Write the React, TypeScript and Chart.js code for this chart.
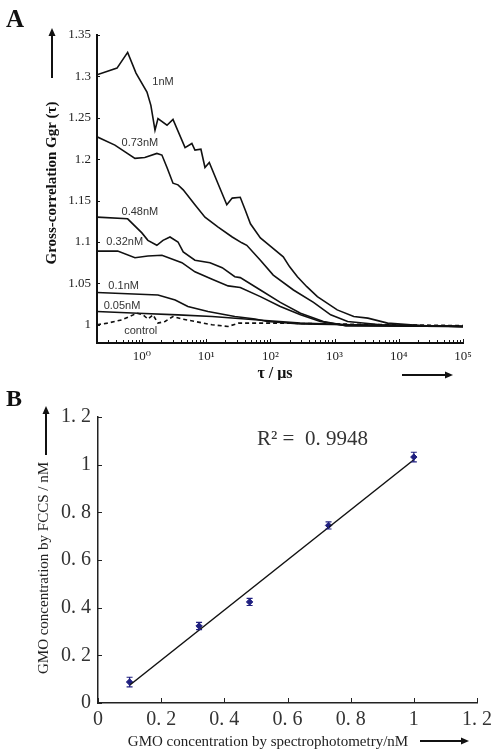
import React, { useEffect, useRef } from 'react';
import { Chart, registerables } from 'chart.js';
Chart.register(...registerables);

// ---------- Panel A data ----------
const seriesNames = ['1nM', '0.73nM', '0.48nM', '0.32nM', '0.1nM', '0.05nM', 'control'];

const tau1nM = [0.2, 0.41, 0.6, 0.81, 1.2, 1.38, 1.6, 1.78, 2.46, 3.05, 4.7, 6.0, 6.7, 8.3, 9.6, 11.2, 15.4, 21, 25.5, 34, 40.5, 49, 70, 100, 159, 200, 264, 370, 540, 1100, 1990, 3300, 6700, 22000, 100000];
const g1nM = [1.302, 1.31, 1.329, 1.304, 1.281, 1.265, 1.235, 1.249, 1.241, 1.248, 1.214, 1.219, 1.211, 1.212, 1.19, 1.196, 1.17, 1.145, 1.153, 1.154, 1.139, 1.122, 1.105, 1.095, 1.082, 1.07, 1.058, 1.046, 1.034, 1.018, 1.01, 1.008, 1.002, 0.999, 0.998];

const tau073 = [0.2, 0.38, 0.78, 1.11, 1.71, 2.05, 2.46, 3.05, 3.65, 4.4, 6.7, 9.6, 15.4, 25.5, 36, 43, 70, 111, 229, 470, 870, 1600, 5200, 100000];
const g073 = [1.227, 1.217, 1.201, 1.202, 1.207, 1.205, 1.19, 1.171, 1.169, 1.163, 1.145, 1.13, 1.118, 1.106, 1.099, 1.096, 1.078, 1.06, 1.042, 1.027, 1.012, 1.004, 1.0, 0.998];

const tau048 = [0.2, 0.6, 1.0, 1.24, 1.71, 2.13, 2.74, 3.65, 4.4, 6.7, 11.5, 17.8, 28, 34, 70, 143, 295, 670, 1500, 100000];
const g048 = [1.13, 1.128, 1.111, 1.102, 1.096, 1.102, 1.106, 1.1, 1.088, 1.078, 1.075, 1.069, 1.058, 1.057, 1.042, 1.027, 1.014, 1.004, 0.999, 0.998];

const tau032 = [0.2, 0.42, 0.78, 1.24, 2.05, 4.2, 6.7, 12.4, 22, 34, 70, 143, 295, 600, 1500, 100000];
const g032 = [1.089, 1.089, 1.081, 1.083, 1.084, 1.075, 1.064, 1.055, 1.047, 1.045, 1.034, 1.022, 1.012, 1.004, 0.999, 0.998];

const tau01 = [0.2, 1.78, 3.3, 5.2, 10.7, 28, 58, 90, 295, 100000];
const g01 = [1.039, 1.036, 1.03, 1.022, 1.016, 1.01, 1.007, 1.004, 1.001, 0.998];

const tau005 = [0.2, 0.87, 3.65, 12.4, 58, 295, 1800, 100000];
const g005 = [1.016, 1.014, 1.012, 1.01, 1.006, 1.002, 1.0, 0.998];

const tauCtrl = [0.2, 0.29, 0.49, 0.84, 1.04, 1.24, 1.49, 1.78, 2.29, 3.05, 4.2, 6.7, 12.4, 22, 32, 52, 160, 870, 100000];
const gCtrl = [1.0, 1.002, 1.006, 1.014, 1.012, 1.007, 1.012, 1.002, 1.004, 1.01, 1.007, 1.004, 1.0, 0.998, 1.002, 1.002, 1.002, 1.001, 0.999];

const labelTau = [2.13, 0.93, 0.93, 0.54, 0.52, 0.49, 0.96];
const labelG = [1.293, 1.219, 1.136, 1.1, 1.047, 1.023, 0.993];

const xTickValuesA = [1, 10, 100, 1000, 10000, 100000];
const xTickLabelsA = ['10⁰', '10¹', '10²', '10³', '10⁴', '10⁵'];
const yTicksA = [1, 1.05, 1.1, 1.15, 1.2, 1.25, 1.3, 1.35];
const yTickLabelsA = ['1', '1.05', '1.1', '1.15', '1.2', '1.25', '1.3', '1.35'];

// ---------- Panel B data ----------
const spectroConc = [0.1, 0.32, 0.48, 0.73, 1.0];
const fccsConc = [0.088, 0.323, 0.424, 0.745, 1.032];
const fccsErr = [0.02, 0.015, 0.015, 0.015, 0.02];
const r2Text = 'R² =  0. 9948';

const ticksB = [0, 0.2, 0.4, 0.6, 0.8, 1, 1.2];
const tickLabelsB = ['0', '0. 2', '0. 4', '0. 6', '0. 8', '1', '1. 2'];

const SERIF = '"Liberation Serif", "DejaVu Serif", serif';
const SANS = '"Liberation Sans", Arial, sans-serif';

function arrow(ctx: CanvasRenderingContext2D, x1: number, y1: number, x2: number, y2: number) {
  ctx.save();
  ctx.strokeStyle = '#111';
  ctx.fillStyle = '#111';
  ctx.lineWidth = 2;
  const ang = Math.atan2(y2 - y1, x2 - x1);
  const hl = 8;
  ctx.beginPath();
  ctx.moveTo(x1, y1);
  ctx.lineTo(x2 - Math.cos(ang) * hl * 0.8, y2 - Math.sin(ang) * hl * 0.8);
  ctx.stroke();
  ctx.beginPath();
  ctx.moveTo(x2, y2);
  ctx.lineTo(x2 - hl * Math.cos(ang) + 3.5 * Math.sin(ang), y2 - hl * Math.sin(ang) - 3.5 * Math.cos(ang));
  ctx.lineTo(x2 - hl * Math.cos(ang) - 3.5 * Math.sin(ang), y2 - hl * Math.sin(ang) + 3.5 * Math.cos(ang));
  ctx.closePath();
  ctx.fill();
  ctx.restore();
}

function findLabel(values: number[], labels: string[], v: number) {
  const i = values.findIndex((t) => Math.abs(t - v) < 1e-6 * Math.max(1, Math.abs(t)));
  return i >= 0 ? labels[i] : '';
}

const panelAPlugin = {
  id: 'panelA',
  afterDraw(chart: any) {
    const { ctx, chartArea, scales } = chart;
    const x = scales.x;
    const y = scales.y;
    ctx.save();
    ctx.strokeStyle = '#111';
    ctx.lineWidth = 1;
    x.ticks.forEach((t: any) => {
      const px = Math.round(x.getPixelForValue(t.value)) + 0.5;
      const len = xTickValuesA.some((v) => Math.abs(v - t.value) < 1e-6 * v) ? 4 : 3;
      ctx.beginPath();
      ctx.moveTo(px, chartArea.bottom);
      ctx.lineTo(px, chartArea.bottom - len);
      ctx.stroke();
    });
    y.ticks.forEach((t: any) => {
      const py = Math.round(y.getPixelForValue(t.value)) + 0.5;
      ctx.beginPath();
      ctx.moveTo(chartArea.left, py);
      ctx.lineTo(chartArea.left + 3, py);
      ctx.stroke();
    });
    // series labels
    ctx.font = '11px ' + SANS;
    ctx.fillStyle = '#333';
    ctx.textAlign = 'center';
    ctx.textBaseline = 'middle';
    seriesNames.forEach((n, i) => {
      ctx.fillText(n, x.getPixelForValue(labelTau[i]), y.getPixelForValue(labelG[i]));
    });
    // panel letter
    ctx.fillStyle = '#111';
    ctx.textAlign = 'left';
    ctx.textBaseline = 'alphabetic';
    ctx.font = 'bold 25px ' + SERIF;
    ctx.fillText('A', 6, 27);
    // y title
    ctx.save();
    ctx.translate(56, 183);
    ctx.rotate(-Math.PI / 2);
    ctx.textAlign = 'center';
    ctx.textBaseline = 'alphabetic';
    ctx.font = 'bold 15px ' + SERIF;
    ctx.fillText('Gross-correlation Ggr (τ)', 0, 0);
    ctx.restore();
    arrow(ctx, 52, 78, 52, 28);
    // x title
    ctx.font = 'bold 16px ' + SERIF;
    ctx.textAlign = 'center';
    ctx.textBaseline = 'middle';
    ctx.fillText('τ / μs', 275, 374);
    arrow(ctx, 402, 375, 453, 375);
    ctx.restore();
  },
};

const panelBPlugin = {
  id: 'panelB',
  afterDatasetsDraw(chart: any) {
    const { ctx, scales } = chart;
    const x = scales.x;
    const y = scales.y;
    ctx.save();
    ctx.strokeStyle = '#202080';
    ctx.lineWidth = 1.2;
    spectroConc.forEach((v, i) => {
      const px = x.getPixelForValue(v);
      const top = y.getPixelForValue(fccsConc[i] + fccsErr[i]);
      const bot = y.getPixelForValue(fccsConc[i] - fccsErr[i]);
      ctx.beginPath();
      ctx.moveTo(px, top);
      ctx.lineTo(px, bot);
      ctx.moveTo(px - 3, top);
      ctx.lineTo(px + 3, top);
      ctx.moveTo(px - 3, bot);
      ctx.lineTo(px + 3, bot);
      ctx.stroke();
    });
    ctx.restore();
  },
  afterDraw(chart: any) {
    const { ctx, chartArea, scales } = chart;
    const x = scales.x;
    const y = scales.y;
    ctx.save();
    ctx.strokeStyle = '#222';
    ctx.lineWidth = 1;
    x.ticks.forEach((t: any) => {
      const px = Math.round(x.getPixelForValue(t.value)) + 0.5;
      ctx.beginPath();
      ctx.moveTo(px, chartArea.bottom);
      ctx.lineTo(px, chartArea.bottom - 5);
      ctx.stroke();
    });
    y.ticks.forEach((t: any) => {
      const py = Math.round(y.getPixelForValue(t.value)) + 0.5;
      ctx.beginPath();
      ctx.moveTo(chartArea.left, py);
      ctx.lineTo(chartArea.left + 4, py);
      ctx.stroke();
    });
    ctx.fillStyle = '#111';
    ctx.textAlign = 'left';
    ctx.textBaseline = 'alphabetic';
    ctx.font = 'bold 24px ' + SERIF;
    ctx.fillText('B', 6, 26);
    // R2
    ctx.fillStyle = '#333';
    ctx.font = '21px ' + SERIF;
    ctx.fillText(r2Text, 257, 65);
    // y title
    ctx.fillStyle = '#222';
    ctx.save();
    ctx.translate(48, 188);
    ctx.rotate(-Math.PI / 2);
    ctx.textAlign = 'center';
    ctx.font = '15px ' + SERIF;
    ctx.fillText('GMO concentration by FCCS / nM', 0, 0);
    ctx.restore();
    arrow(ctx, 46, 75, 46, 26);
    ctx.textAlign = 'center';
    ctx.textBaseline = 'middle';
    ctx.font = '15px ' + SERIF;
    ctx.fillText('GMO concentration by spectrophotometry/nM', 268, 362);
    arrow(ctx, 420, 361, 469, 361);
    ctx.restore();
  },
};

function linearFit(xs: number[], ys: number[]) {
  const n = xs.length;
  const mx = xs.reduce((a, b) => a + b, 0) / n;
  const my = ys.reduce((a, b) => a + b, 0) / n;
  let sxy = 0;
  let sxx = 0;
  for (let i = 0; i < n; i++) {
    sxy += (xs[i] - mx) * (ys[i] - my);
    sxx += (xs[i] - mx) * (xs[i] - mx);
  }
  const slope = sxy / sxx;
  return { slope, intercept: my - slope * mx };
}

export default function App() {
  const refA = useRef<HTMLCanvasElement>(null);
  const refB = useRef<HTMLCanvasElement>(null);

  useEffect(() => {
    const taus = [tau1nM, tau073, tau048, tau032, tau01, tau005, tauCtrl];
    const gs = [g1nM, g073, g048, g032, g01, g005, gCtrl];
    const chartA = new Chart(refA.current as HTMLCanvasElement, {
      type: 'line',
      data: {
        datasets: seriesNames.map((name, i) => ({
          label: name,
          data: taus[i].map((t, j) => ({ x: t, y: gs[i][j] })),
          borderColor: '#111',
          borderWidth: 1.6,
          borderDash: name === 'control' ? [4, 3] : [],
          pointRadius: 0,
          tension: 0,
          fill: false,
        })),
      },
      options: {
        responsive: false,
        animation: false,
        layout: { padding: { top: 35, right: 35, left: 0, bottom: 0 } },
        plugins: { legend: { display: false }, tooltip: { enabled: false } },
        scales: {
          x: {
            type: 'logarithmic',
            min: 0.2,
            max: 100000,
            grid: { display: false, drawTicks: false },
            border: { display: true, color: '#111', width: 2 },
            afterBuildTicks: (scale: any) => {
              const ticks: any[] = [];
              for (let e = -1; e <= 5; e++) {
                for (let m = 1; m <= 9; m++) {
                  const v = m * Math.pow(10, e);
                  if (v >= 0.2 - 1e-9 && v <= 100000 * (1 + 1e-9)) ticks.push({ value: v });
                }
              }
              scale.ticks = ticks;
            },
            afterFit: (scale: any) => {
              scale.height = 37;
            },
            ticks: {
              autoSkip: false,
              maxRotation: 0,
              padding: 6,
              color: '#222',
              font: { family: SERIF, size: 13 },
              callback: (v: any) => findLabel(xTickValuesA, xTickLabelsA, Number(v)),
            },
          },
          y: {
            type: 'linear',
            min: 0.978,
            max: 1.35,
            grid: { display: false, drawTicks: false },
            border: { display: true, color: '#111', width: 2 },
            afterBuildTicks: (scale: any) => {
              scale.ticks = yTicksA.map((v) => ({ value: v }));
            },
            afterFit: (scale: any) => {
              scale.width = 97;
            },
            ticks: {
              autoSkip: false,
              padding: 6,
              color: '#222',
              font: { family: SERIF, size: 13 },
              callback: (v: any) => findLabel(yTicksA, yTickLabelsA, Number(v)),
            },
          },
        },
      },
      plugins: [panelAPlugin],
    } as any);

    const fit = linearFit(spectroConc, fccsConc);
    const x0 = Math.min(...spectroConc);
    const x1 = Math.max(...spectroConc);
    const chartB = new Chart(refB.current as HTMLCanvasElement, {
      type: 'scatter',
      data: {
        datasets: [
          {
            label: 'fit',
            data: [
              { x: x0, y: fit.slope * x0 + fit.intercept },
              { x: x1, y: fit.slope * x1 + fit.intercept },
            ],
            showLine: true,
            borderColor: '#111',
            borderWidth: 1.5,
            pointRadius: 0,
          },
          {
            label: 'FCCS',
            data: spectroConc.map((v, i) => ({ x: v, y: fccsConc[i] })),
            showLine: false,
            pointStyle: 'rectRot',
            pointRadius: 3.2,
            backgroundColor: '#202080',
            borderColor: '#202080',
            borderWidth: 1,
          },
        ],
      },
      options: {
        responsive: false,
        animation: false,
        layout: { padding: { top: 37, right: 21, left: 0, bottom: 0 } },
        plugins: { legend: { display: false }, tooltip: { enabled: false } },
        scales: {
          x: {
            type: 'linear',
            min: 0,
            max: 1.2,
            grid: { display: false, drawTicks: false },
            border: { display: true, color: '#222', width: 1.5 },
            afterBuildTicks: (scale: any) => {
              scale.ticks = ticksB.map((v) => ({ value: v }));
            },
            afterFit: (scale: any) => {
              scale.height = 52;
            },
            ticks: {
              autoSkip: false,
              maxRotation: 0,
              padding: 5,
              color: '#333',
              font: { family: SERIF, size: 20 },
              callback: (v: any) => findLabel(ticksB, tickLabelsB, Number(v)),
            },
          },
          y: {
            type: 'linear',
            min: 0,
            max: 1.2,
            grid: { display: false, drawTicks: false },
            border: { display: true, color: '#222', width: 1.5 },
            afterBuildTicks: (scale: any) => {
              scale.ticks = ticksB.map((v) => ({ value: v }));
            },
            afterFit: (scale: any) => {
              scale.width = 98;
            },
            ticks: {
              autoSkip: false,
              padding: 7,
              color: '#333',
              font: { family: SERIF, size: 20 },
              callback: (v: any) => findLabel(ticksB, tickLabelsB, Number(v)),
            },
          },
        },
      },
      plugins: [panelBPlugin],
    } as any);

    return () => {
      chartA.destroy();
      chartB.destroy();
    };
  }, []);

  return (
    <div style={{ position: 'absolute', left: 0, top: 0, width: 498, height: 755, background: '#fff' }}>
      <canvas ref={refA} width={498} height={380} style={{ position: 'absolute', left: 0, top: 0 }} />
      <canvas ref={refB} width={498} height={375} style={{ position: 'absolute', left: 0, top: 380 }} />
    </div>
  );
}
